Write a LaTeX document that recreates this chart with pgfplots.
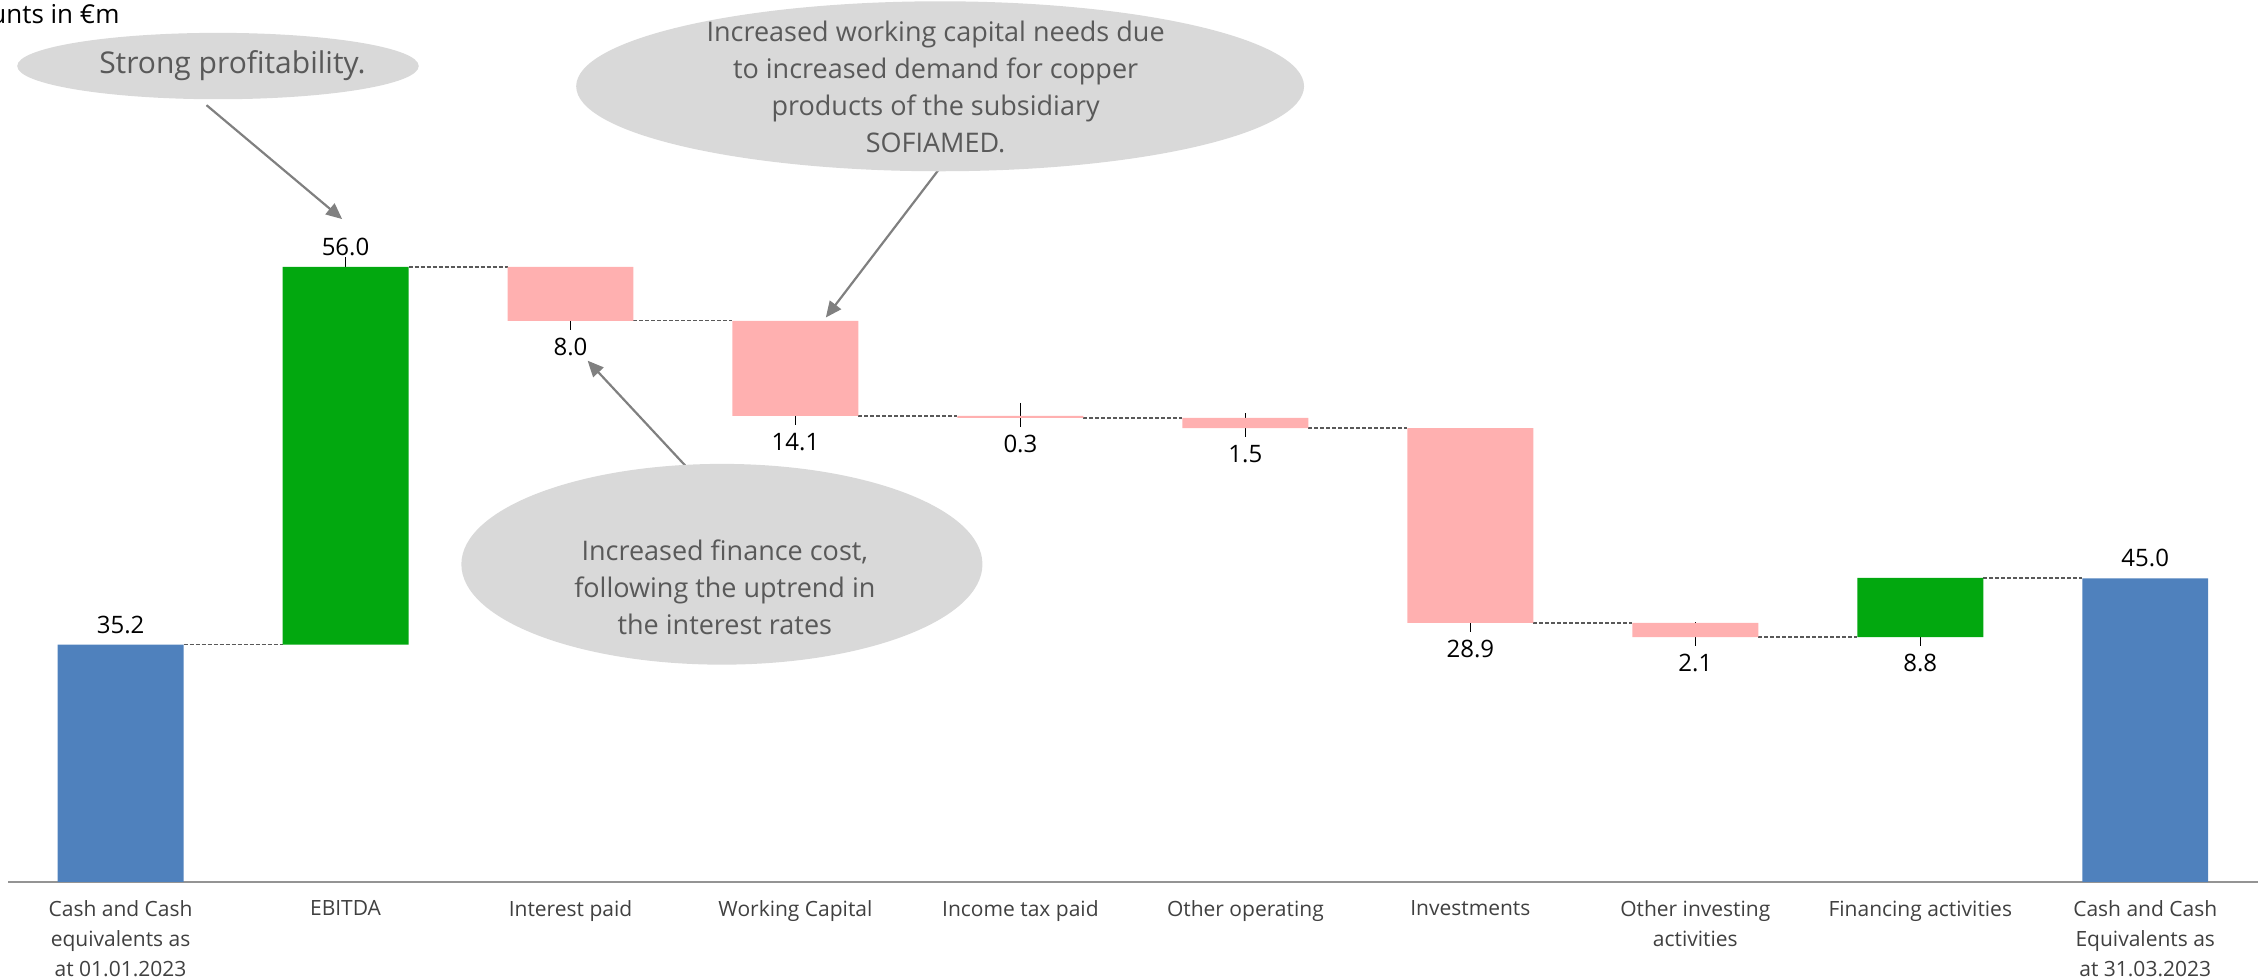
\documentclass[border=0pt]{standalone}
\usepackage{fontspec}
\setmainfont{Open Sans}
\usepackage{pgfplots}
\pgfplotsset{compat=1.18}
\usetikzlibrary{arrows.meta}
\definecolor{cblue}{HTML}{4F81BD}
\definecolor{cgreen}{HTML}{02A80F}
\definecolor{cpink}{HTML}{FFB0B0}
\definecolor{ellgray}{HTML}{D9D9D9}
\definecolor{anntext}{HTML}{595959}
\definecolor{arrowc}{HTML}{808080}
\definecolor{catgray}{HTML}{404040}
\newcommand{\valfont}{\fontsize{12}{14}\selectfont}
\newcommand{\annfont}{\fontsize{13.5}{18.5}\selectfont}
\begin{document}
\begin{tikzpicture}
\begin{axis}[
 scale only axis, width=1125pt, height=441pt,
 xmin=-0.5, xmax=9.5, ymin=0, ymax=130.8,
 ybar stacked, bar width=0.56,
 hide y axis, axis x line*=bottom,
 x axis line style={color=black!42, line width=1.2pt, -},
 xtick={1,...,8},
 xticklabels={EBITDA, Interest paid, Working Capital, Income tax paid, Other operating, Investments, {Other investing\\activities}, Financing activities},
 extra x ticks={0,9},
 extra x tick labels={{Cash and Cash\\equivalents as\\at 01.01.2023},{Cash and Cash\\Equivalents as\\at 31.03.2023}},
 extra x tick style={tick label style={color=black, font=\fontsize{12.5}{14.8}\selectfont}},
 major tick length=0pt,
 xticklabel style={align=center, color=catgray, font=\fontsize{10.5}{14.8}\selectfont, anchor=north, yshift=-6pt},
 clip=false,
]
% invisible base
\addplot[draw=none, fill=none] coordinates {(0,0) (1,35.2) (2,83.2) (3,69.1) (4,68.8) (5,67.3) (6,38.4) (7,36.3) (8,36.3) (9,0)};
% totals
\addplot[draw=none, fill=cblue] coordinates {(0,35.2) (1,0) (2,0) (3,0) (4,0) (5,0) (6,0) (7,0) (8,0) (9,45.0)};
% increases
\addplot[draw=none, fill=cgreen] coordinates {(0,0) (1,56.0) (2,0) (3,0) (4,0) (5,0) (6,0) (7,0) (8,8.8) (9,0)};
% decreases
\addplot[draw=none, fill=cpink] coordinates {(0,0) (1,0) (2,8.0) (3,14.1) (4,0.3) (5,1.5) (6,28.9) (7,2.1) (8,0) (9,0)};

% connectors
\foreach \a/\b/\v in {0/1/35.2, 1/2/91.2, 2/3/83.2, 3/4/69.1, 4/5/68.8, 5/6/67.3, 6/7/38.4, 7/8/36.3, 8/9/45.05}{
  \edef\tmp{\noexpand\draw[black!65, line width=0.6pt, dash pattern=on 2pt off 1pt] (axis cs:\a+0.28,\v) -- (axis cs:\b-0.28,\v);}\tmp
}

% value labels above
\node[font=\valfont] at ([yshift=10pt]axis cs:0,35.2) {35.2};
\node[font=\valfont] at ([yshift=10pt]axis cs:1,91.2) {56.0};
\node[font=\valfont] at ([yshift=10pt]axis cs:9,45.0) {45.0};
\draw[black, line width=0.6pt] ([yshift=5pt]axis cs:1,91.2) -- ([yshift=-8.5pt]axis cs:1,91.2);
% value labels below
\foreach \x/\v/\t in {2/83.2/8.0, 3/69.1/14.1, 4/68.8/0.3, 5/67.3/1.5, 6/38.4/28.9, 7/36.3/2.1, 8/36.3/8.8}{
  \edef\tmp{\noexpand\node[font=\noexpand\valfont] at ([yshift=-13pt]axis cs:\x,\v) {\t};
  \noexpand\draw[black, line width=0.6pt] ([yshift=7.5pt]axis cs:\x,\v) -- ([yshift=-4.5pt]axis cs:\x,\v);}\tmp
}

% anchor coordinates for callouts
\coordinate (a1s) at (axis cs:0.382,115.2);
\coordinate (a1e) at (axis cs:0.985,98.3);
\coordinate (a2s) at (axis cs:3.636,105.6);
\coordinate (a2e) at (axis cs:3.135,83.7);
\coordinate (a3s) at (axis cs:2.673,55.9);
\coordinate (a3e) at (axis cs:2.076,77.3);
\coordinate (e1) at (axis cs:0.433,121.0);
\coordinate (t1) at (axis cs:0.497,121.0);
\coordinate (e2) at (axis cs:3.643,118.0);
\coordinate (t2) at (axis cs:3.623,117.85);
\coordinate (e3) at (axis cs:2.673,47.1);
\coordinate (t3) at (axis cs:2.686,43.65);
\coordinate (amt) at (axis cs:-0.003,128.7);

\coordinate (bbll) at (axis cs:-0.536,-14.13);
\coordinate (bbur) at (axis cs:9.528,130.8);
\end{axis}

% arrows
\draw[arrowc, line width=1.1pt, -{Triangle[length=8pt, width=7pt]}] (a1s) -- (a1e);
\draw[arrowc, line width=1.1pt, -{Triangle[length=8pt, width=7pt]}] (a2s) -- (a2e);
\draw[arrowc, line width=1.1pt, -{Triangle[length=8pt, width=7pt]}] (a3s) -- (a3e);

% callouts
\fill[ellgray] (e1) ellipse [x radius=100.4pt, y radius=16.6pt];
\node[font=\fontsize{15}{18.5}\selectfont, text=anntext] at (t1) {Strong profitability.};
\fill[ellgray] (e2) ellipse [x radius=182pt, y radius=42.5pt];
\node[font=\annfont, text=anntext, align=center] at (t2) {Increased working capital needs due\\to increased demand for copper\\products of the subsidiary\\SOFIAMED.};
\fill[ellgray] (e3) ellipse [x radius=130.3pt, y radius=50.2pt];
\node[font=\annfont, text=anntext, align=center] at (t3) {Increased finance cost,\\following the uptrend in\\the interest rates};

\node[anchor=east, font=\fontsize{13}{15}\selectfont, xshift=3.3pt] at (amt) {Amounts in €m};

\pgfresetboundingbox
\path[use as bounding box] (bbll) rectangle (bbur);
\end{tikzpicture}
\end{document}
